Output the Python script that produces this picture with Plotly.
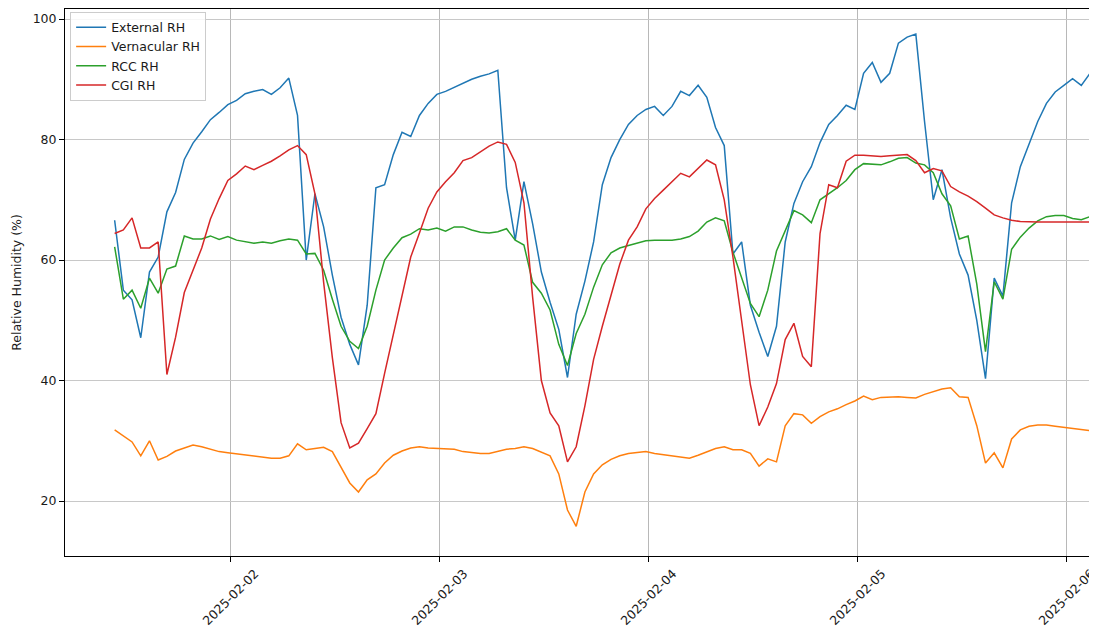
import pandas as pd
import plotly.graph_objects as go

# ---- data (hourly readings) ----
start_time = "2025-02-01 10:45"

external_rh = [66.6, 55, 53.4, 47.1, 58, 60.5, 68, 71.2, 76.7, 79.4,
               81.3, 83.3, 84.5, 85.8, 86.5, 87.6, 88.0, 88.3, 87.5, 88.6,
               90.2, 84, 60, 71.0, 65.5, 57.5, 50.5, 46, 42.6, 52.5,
               72, 72.5, 77.5, 81.2, 80.5, 84, 86, 87.5, 88, 88.7,
               89.3, 90, 90.5, 90.9, 91.5, 72, 63.3, 73, 66, 58,
               53, 48.5, 40.5, 51, 56.5, 63, 72.5, 77, 80, 82.5,
               84, 85, 85.5, 84, 85.5, 88, 87.3, 89, 87, 82,
               79, 61, 63, 52.5, 48, 44, 49, 63, 69.4, 73,
               75.5, 79.5, 82.5, 84, 85.7, 85, 91, 92.8, 89.5, 91,
               96, 97, 97.5, 83, 70, 75, 67, 61, 57.5, 50,
               40.3, 57, 54, 69.5, 75.5, 79.3, 83, 86, 87.9, 89,
               90.1, 89, 91, 90]

vernacular_rh = [31.8, 30.8, 29.8, 27.5, 30, 26.8, 27.4, 28.3, 28.8, 29.3,
                 29, 28.6, 28.2, 28, 27.8, 27.6, 27.5, 27.3, 27.1, 27.1,
                 27.5, 29.5, 28.5, 28.7, 28.9, 28.2, 25.5, 23, 21.5, 23.5,
                 24.5, 26.3, 27.6, 28.3, 28.8, 29, 28.8, 28.7, 28.7, 28.6,
                 28.2, 28, 27.9, 27.9, 28.3, 28.6, 28.7, 29, 28.7, 28.1,
                 27.5, 24.5, 18.5, 15.8, 21.5, 24.5, 26, 26.9, 27.5, 27.9,
                 28.1, 28.2, 27.9, 27.7, 27.5, 27.3, 27.1, 27.6, 28.2, 28.7,
                 29, 28.5, 28.5, 27.9, 25.8, 27, 26.5, 32.5, 34.5, 34.3,
                 32.9, 34, 34.8, 35.3, 36, 36.6, 37.4, 36.8, 37.2, 37.3,
                 37.3, 37.2, 37.1, 37.7, 38.1, 38.6, 38.8, 37.3, 37.2, 32.5,
                 26.3, 28, 25.5, 30.3, 31.8, 32.4, 32.6, 32.6, 32.4, 32.2,
                 32, 31.8, 31.6, 31.5]

rcc_rh = [62.2, 53.5, 55, 52, 57, 54.5, 58.5, 59, 64, 63.5,
          63.5, 64, 63.4, 63.9, 63.3, 63, 62.8, 63, 62.8, 63.2,
          63.5, 63.3, 61, 61.1, 58.3, 53.5, 49, 46.5, 45.3, 49,
          55, 60, 62, 63.7, 64.3, 65.2, 65, 65.3, 64.8, 65.5,
          65.5, 65, 64.6, 64.5, 64.7, 65.2, 63.3, 62.5, 56.3, 54.5,
          51.7, 46, 42.5, 47.8, 51, 55.5, 59.2, 61.2, 62, 62.4,
          62.8, 63.2, 63.3, 63.3, 63.3, 63.5, 63.9, 64.8, 66.3, 67,
          66.5, 61.3, 57, 52.8, 50.6, 55, 61.5, 65, 68.2, 67.5,
          66.2, 70, 71, 72, 73.2, 75, 76, 75.9, 75.8, 76.3,
          76.9, 77, 76.1, 75.8, 74.5, 71, 69, 63.5, 64, 56,
          44.8, 56.4, 53.5, 61.8, 63.8, 65.3, 66.5, 67.2, 67.4, 67.4,
          66.9, 66.7, 67.2, 67]

cgi_rh = [64.4, 65, 67, 62, 62, 63, 41, 47.2, 54.6, 58.2,
          62, 66.8, 70.2, 73.2, 74.3, 75.6, 75, 75.7, 76.4, 77.3,
          78.3, 79, 77.5, 71, 56.3, 43.8, 33, 28.8, 29.6, 32,
          34.5, 41.2, 47.8, 54.3, 60.5, 64.5, 68.6, 71.3, 73, 74.5,
          76.5, 77, 78, 78.9, 79.6, 79.2, 76.2, 69.5, 53.8, 40,
          34.6, 32.5, 26.5, 29, 35.8, 43.5, 49, 54.3, 59.3, 63.3,
          65.5, 68.5, 70.2, 71.6, 73, 74.4, 73.8, 75.2, 76.6, 75.8,
          70, 60.5, 50, 39.3, 32.5, 35.6, 39.5, 46.8, 49.5, 44,
          42.3, 64.4, 72.5, 72, 76.4, 77.4, 77.4, 77.3, 77.2, 77.3,
          77.4, 77.5, 76.5, 74.5, 75.2, 74.8, 72.2, 71.3, 70.6, 69.7,
          68.6, 67.5, 67, 66.6, 66.4, 66.3, 66.3, 66.3, 66.3, 66.3,
          66.3, 66.3, 66.3, 66.3]

series_names = ["External RH", "Vernacular RH", "RCC RH", "CGI RH"]
series_values = [external_rh, vernacular_rh, rcc_rh, cgi_rh]
series_colors = ["#1f77b4", "#ff7f0e", "#2ca02c", "#d62728"]

tick_dates = ["2025-02-02", "2025-02-03", "2025-02-04", "2025-02-05", "2025-02-06"]
y_ticks = [20, 40, 60, 80, 100]

times = pd.date_range(start_time, periods=len(external_rh), freq="h")

fig = go.Figure()
for name, vals, col in zip(series_names, series_values, series_colors):
    fig.add_trace(go.Scatter(x=times, y=vals, mode="lines", name=name,
                             line=dict(color=col, width=1.5)))

FONT = "DejaVu Sans"
TXT = "#1a1a1a"
FS = 12.5
# the page body has an 8px margin, so the figure is sized to the visible area
fig.update_layout(
    width=1089, height=624,
    margin=dict(l=57, r=7, t=1, b=76, autoexpand=False),
    plot_bgcolor="white", paper_bgcolor="white",
    font=dict(family=FONT, size=FS, color=TXT),
    showlegend=True,
    legend=dict(x=0.005, y=0.995, xanchor="left", yanchor="top",
                bordercolor="#cccccc", borderwidth=1,
                bgcolor="rgba(255,255,255,0.85)",
                font=dict(family=FONT, size=FS, color=TXT),
                itemwidth=30),
)
fig.update_xaxes(
    type="date", automargin=False,
    range=["2025-02-01 05:03", "2025-02-06 02:45"],
    tickvals=tick_dates, showticklabels=False,
    ticks="outside", ticklen=5, tickcolor="black",
    showgrid=True, gridcolor="#b8b8b8", gridwidth=1,
    showline=True, linecolor="black", linewidth=1, mirror=True,
    zeroline=False,
)
fig.update_yaxes(
    automargin=False,
    range=[10.87, 101.67],
    tickvals=y_ticks,
    ticks="outside", ticklen=5, tickcolor="black",
    showgrid=True, gridcolor="#c8c8c8", gridwidth=1,
    showline=True, linecolor="black", linewidth=1,
    zeroline=False,
    title=dict(text="Relative Humidity (%)", standoff=8,
               font=dict(family=FONT, size=FS, color=TXT)),
)

for d in tick_dates:
    fig.add_annotation(x=d, y=0, xref="x", yref="paper", yshift=-41,
                       text=d, textangle=-45, showarrow=False,
                       xanchor="center", yanchor="middle",
                       font=dict(family=FONT, size=FS, color=TXT))

fig.write_html("out.html")
